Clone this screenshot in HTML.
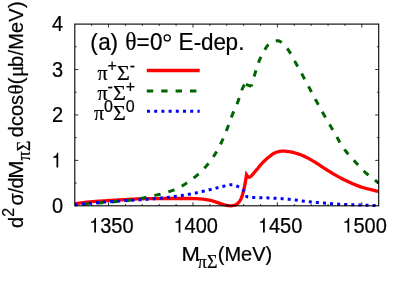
<!DOCTYPE html>
<html><head><meta charset="utf-8"><title>plot</title>
<style>
html,body{margin:0;padding:0;background:#fff;}
body{width:415px;height:291px;overflow:hidden;}
svg{display:block;transform:translateZ(0);will-change:transform;}
text{font-family:"Liberation Sans",sans-serif;font-size:20px;fill:#000;stroke:#000;stroke-width:0.22px;}
.sy{font-family:"Liberation Serif",serif;}
</style></head><body>
<svg width="415" height="291" viewBox="0 0 415 291">
<rect x="0" y="0" width="415" height="291" fill="#fff"/>
<!-- curves -->
<g fill="none" stroke-linejoin="miter">
<path d="M74.80 203.76 L76.24 203.55 L77.69 203.34 L79.13 203.14 L80.57 202.95 L82.01 202.77 L83.46 202.59 L84.90 202.42 L86.34 202.26 L87.79 202.09 L89.23 201.94 L90.67 201.80 L92.11 201.68 L93.56 201.56 L95.00 201.45 L96.44 201.34 L97.89 201.24 L99.33 201.15 L100.77 201.06 L102.21 200.97 L103.66 200.88 L105.10 200.79 L106.54 200.70 L107.99 200.61 L109.43 200.52 L110.87 200.43 L112.32 200.34 L113.76 200.25 L115.20 200.16 L116.64 200.08 L118.09 199.99 L119.53 199.91 L120.97 199.82 L122.42 199.74 L123.86 199.66 L125.30 199.58 L126.74 199.51 L128.19 199.42 L129.63 199.34 L131.07 199.26 L132.52 199.18 L133.96 199.10 L135.40 199.02 L136.84 198.95 L138.29 198.89 L139.73 198.83 L141.17 198.79 L142.62 198.75 L144.06 198.72 L145.50 198.70 L146.94 198.67 L148.39 198.65 L149.83 198.62 L151.27 198.60 L152.72 198.59 L154.16 198.57 L155.60 198.56 L157.04 198.54 L158.49 198.54 L159.93 198.53 L161.37 198.52 L162.82 198.52 L164.26 198.51 L165.70 198.51 L167.14 198.50 L168.59 198.50 L170.03 198.49 L171.47 198.49 L172.92 198.49 L174.36 198.49 L175.80 198.49 L177.24 198.49 L178.69 198.49 L180.13 198.49 L181.57 198.49 L183.02 198.49 L184.46 198.50 L185.90 198.50 L187.35 198.51 L188.79 198.51 L190.23 198.52 L191.67 198.52 L193.12 198.53 L194.56 198.56 L196.00 198.62 L197.45 198.70 L198.89 198.81 L200.33 198.93 L201.77 199.06 L203.22 199.19 L204.66 199.36 L206.10 199.57 L207.55 199.82 L208.99 200.10 L210.43 200.40 L211.87 200.76 L213.32 201.18 L214.76 201.64 L216.20 202.12 L217.65 202.59 L219.09 203.09 L220.53 203.63 L221.97 204.16 L223.42 204.62 L224.86 204.96 L226.30 205.25 L227.75 205.51 L229.19 205.71 L230.63 205.80 L232.07 205.72 L233.52 205.46 L234.96 205.07 L236.40 204.50 L237.85 203.37 L239.29 201.73 L240.73 199.60 L242.17 195.89 L243.62 190.68 L245.06 183.95 L246.50 174.91 L246.50 174.91 L247.84 177.00 L249.17 177.32 L250.51 176.62 L251.84 175.41 L253.18 173.88 L254.52 172.23 L255.85 170.66 L257.19 169.18 L258.52 167.55 L259.86 165.85 L261.19 164.22 L262.53 162.77 L263.86 161.43 L265.20 160.16 L266.53 158.96 L267.87 157.85 L269.20 156.77 L270.54 155.68 L271.87 154.64 L273.21 153.72 L274.55 152.99 L275.88 152.48 L277.22 152.05 L278.55 151.65 L279.89 151.34 L281.22 151.13 L282.56 151.06 L283.89 151.10 L285.23 151.20 L286.56 151.34 L287.90 151.52 L289.23 151.70 L290.57 151.90 L291.90 152.16 L293.24 152.47 L294.57 152.82 L295.91 153.21 L297.25 153.64 L298.58 154.09 L299.92 154.56 L301.25 155.04 L302.59 155.55 L303.92 156.13 L305.26 156.75 L306.59 157.43 L307.93 158.14 L309.26 158.88 L310.60 159.63 L311.93 160.40 L313.27 161.17 L314.60 161.95 L315.94 162.77 L317.28 163.61 L318.61 164.49 L319.95 165.38 L321.28 166.27 L322.62 167.16 L323.95 168.04 L325.29 168.89 L326.62 169.73 L327.96 170.56 L329.29 171.39 L330.63 172.22 L331.96 173.04 L333.30 173.85 L334.63 174.64 L335.97 175.41 L337.31 176.16 L338.64 176.89 L339.98 177.61 L341.31 178.31 L342.65 179.00 L343.98 179.67 L345.32 180.33 L346.65 180.97 L347.99 181.60 L349.32 182.21 L350.66 182.80 L351.99 183.40 L353.33 183.98 L354.66 184.55 L356.00 185.10 L357.33 185.64 L358.67 186.15 L360.01 186.63 L361.34 187.08 L362.68 187.49 L364.01 187.88 L365.35 188.25 L366.68 188.59 L368.02 188.93 L369.35 189.26 L370.69 189.58 L372.02 189.91 L373.36 190.24 L374.69 190.58 L376.03 190.92 L377.36 191.25 L378.70 191.58" stroke="#ff0000" stroke-width="3.3"/>
<path d="M74.80 204.89 L76.23 204.78 L77.66 204.66 L79.09 204.55 L80.52 204.43 L81.95 204.31 L83.38 204.20 L84.81 204.08 L86.24 203.97 L87.67 203.85 L89.10 203.74 L90.53 203.62 L91.96 203.51 L93.39 203.39 L94.82 203.28 L96.25 203.16 L97.68 203.04 L99.11 202.93 L100.54 202.81 L101.97 202.70 L103.40 202.58 L104.83 202.47 L106.26 202.35 L107.69 202.24 L109.12 202.12 L110.55 202.01 L111.98 201.90 L113.41 201.80 L114.84 201.70 L116.27 201.59 L117.70 201.49 L119.13 201.37 L120.56 201.26 L121.99 201.14 L123.42 201.01 L124.85 200.87 L126.28 200.71 L127.71 200.53 L129.14 200.32 L130.57 200.11 L132.00 199.90 L133.43 199.67 L134.86 199.43 L136.30 199.19 L137.73 198.94 L139.16 198.68 L140.59 198.41 L142.02 198.14 L143.45 197.85 L144.88 197.55 L146.31 197.23 L147.74 196.90 L149.17 196.58 L150.60 196.26 L152.03 195.96 L153.46 195.68 L154.89 195.39 L156.32 195.10 L157.75 194.79 L159.18 194.45 L160.61 194.09 L162.04 193.72 L163.47 193.34 L164.90 192.94 L166.33 192.52 L167.76 192.08 L169.19 191.62 L170.62 191.14 L172.05 190.63 L173.48 190.09 L174.91 189.52 L176.34 188.91 L177.77 188.24 L179.20 187.52 L180.63 186.75 L182.06 185.93 L183.49 185.07 L184.92 184.18 L186.35 183.24 L187.78 182.28 L189.21 181.28 L190.64 180.26 L192.07 179.22 L193.50 178.16 L194.93 177.05 L196.36 175.87 L197.79 174.65 L199.22 173.36 L200.65 172.01 L202.08 170.60 L203.51 169.13 L204.94 167.59 L206.37 165.99 L207.80 164.29 L209.23 162.50 L210.66 160.62 L212.09 158.63 L213.52 156.54 L214.95 154.34 L216.38 152.03 L217.81 149.55 L219.24 146.85 L220.67 143.97 L222.10 140.94 L223.53 137.78 L224.96 134.50 L226.39 130.91 L227.82 127.08 L229.25 123.13 L230.68 119.18 L232.11 115.37 L233.54 111.82 L234.97 108.55 L236.40 105.33 L237.83 101.91 L239.26 97.87 L240.69 93.34 L242.12 89.22 L243.55 86.24 L244.98 84.06" stroke="#006400" stroke-width="3" stroke-dasharray="6.4 8.1" stroke-dashoffset="6.8"/>
<path d="M246.00 84.42 L251.23 86.33" stroke="#006400" stroke-width="3"/>
<path d="M251.23 86.33 L252.52 81.81 L253.81 77.43 L255.09 73.22 L256.38 69.06 L257.67 65.02 L258.96 61.42 L260.24 58.41 L261.53 55.79 L262.82 53.40 L264.11 50.98 L265.39 48.66 L266.68 46.64 L267.97 45.08 L269.26 44.11 L270.54 43.27 L271.83 42.51 L273.12 41.85 L274.41 41.32 L275.69 40.93 L276.98 40.72 L278.27 40.72 L279.56 41.14 L280.84 41.94 L282.13 43.03 L283.42 44.31 L284.71 45.68 L286.00 47.07 L287.28 48.55 L288.57 50.33 L289.86 52.36 L291.15 54.56 L292.43 56.88 L293.72 59.25 L295.01 61.61 L296.30 63.89 L297.58 66.16 L298.87 68.48 L300.16 70.85 L301.45 73.24 L302.73 75.65 L304.02 78.06 L305.31 80.46 L306.60 82.85 L307.88 85.23 L309.17 87.63 L310.46 90.04 L311.75 92.46 L313.03 94.87 L314.32 97.28 L315.61 99.68 L316.90 102.08 L318.18 104.45 L319.47 106.81 L320.76 109.14 L322.05 111.44 L323.33 113.72 L324.62 115.97 L325.91 118.19 L327.20 120.40 L328.48 122.60 L329.77 124.80 L331.06 126.99 L332.35 129.18 L333.64 131.39 L334.92 133.61 L336.21 135.84 L337.50 138.10 L338.79 140.48 L340.07 142.89 L341.36 145.09 L342.65 146.97 L343.94 148.76 L345.22 150.45 L346.51 152.06 L347.80 153.61 L349.09 155.10 L350.37 156.56 L351.66 157.98 L352.95 159.38 L354.24 160.79 L355.52 162.19 L356.81 163.62 L358.10 165.06 L359.39 166.50 L360.67 167.90 L361.96 169.26 L363.25 170.55 L364.54 171.76 L365.82 172.90 L367.11 173.99 L368.40 175.04 L369.69 176.06 L370.97 177.06 L372.26 178.04 L373.55 179.02 L374.84 180.01 L376.12 181.02 L377.41 182.05 L378.70 183.09" stroke="#006400" stroke-width="3" stroke-dasharray="6.4 8.1" stroke-dashoffset="4.3"/>
<path d="M74.80 204.89 L76.25 204.72 L77.69 204.55 L79.14 204.38 L80.58 204.22 L82.03 204.05 L83.47 203.90 L84.92 203.74 L86.37 203.59 L87.81 203.45 L89.26 203.30 L90.70 203.17 L92.15 203.03 L93.59 202.90 L95.04 202.77 L96.49 202.65 L97.93 202.53 L99.38 202.41 L100.82 202.30 L102.27 202.18 L103.71 202.07 L105.16 201.96 L106.61 201.86 L108.05 201.75 L109.50 201.64 L110.94 201.54 L112.39 201.44 L113.83 201.33 L115.28 201.23 L116.73 201.13 L118.17 201.04 L119.62 200.94 L121.06 200.85 L122.51 200.76 L123.95 200.67 L125.40 200.58 L126.85 200.50 L128.29 200.42 L129.74 200.34 L131.18 200.27 L132.63 200.19 L134.07 200.12 L135.52 200.05 L136.97 199.98 L138.41 199.90 L139.86 199.82 L141.30 199.73 L142.75 199.64 L144.19 199.54 L145.64 199.44 L147.09 199.34 L148.53 199.23 L149.98 199.12 L151.42 199.00 L152.87 198.88 L154.31 198.76 L155.76 198.63 L157.21 198.50 L158.65 198.36 L160.10 198.22 L161.54 198.07 L162.99 197.91 L164.43 197.75 L165.88 197.58 L167.33 197.41 L168.77 197.23 L170.22 197.05 L171.66 196.86 L173.11 196.67 L174.55 196.47 L176.00 196.27 L177.45 196.07 L178.89 195.87 L180.34 195.65 L181.78 195.44 L183.23 195.21 L184.68 194.98 L186.12 194.75 L187.57 194.51 L189.01 194.26 L190.46 194.00 L191.90 193.74 L193.35 193.47 L194.80 193.18 L196.24 192.88 L197.69 192.56 L199.13 192.24 L200.58 191.90 L202.02 191.56 L203.47 191.21 L204.92 190.86 L206.36 190.51 L207.81 190.15 L209.25 189.80 L210.70 189.45 L212.14 189.09 L213.59 188.72 L215.04 188.34 L216.48 187.96 L217.93 187.58 L219.37 187.21 L220.82 186.85 L222.26 186.51 L223.71 186.19 L225.16 185.85 L226.60 185.49 L228.05 185.15 L229.49 184.87 L230.94 184.71 L232.38 184.70 L233.83 184.96 L235.28 185.42 L236.72 186.00 L238.17 186.61 L239.61 187.38 L241.06 188.33 L242.50 189.43 L243.95 190.82 L245.40 193.15 L246.84 196.72 L246.84 196.72 L248.17 197.03 L249.50 197.30 L250.84 197.42 L252.17 197.49 L253.50 197.54 L254.83 197.59 L256.16 197.63 L257.50 197.66 L258.83 197.68 L260.16 197.71 L261.49 197.73 L262.82 197.75 L264.16 197.78 L265.49 197.81 L266.82 197.85 L268.15 197.90 L269.48 197.95 L270.82 198.01 L272.15 198.08 L273.48 198.15 L274.81 198.22 L276.14 198.30 L277.48 198.38 L278.81 198.47 L280.14 198.55 L281.47 198.64 L282.80 198.74 L284.13 198.84 L285.47 198.94 L286.80 199.05 L288.13 199.17 L289.46 199.30 L290.79 199.43 L292.13 199.57 L293.46 199.74 L294.79 199.92 L296.12 200.10 L297.45 200.30 L298.79 200.49 L300.12 200.69 L301.45 200.88 L302.78 201.06 L304.11 201.22 L305.45 201.38 L306.78 201.52 L308.11 201.67 L309.44 201.81 L310.77 201.95 L312.10 202.08 L313.44 202.21 L314.77 202.34 L316.10 202.46 L317.43 202.58 L318.76 202.69 L320.10 202.80 L321.43 202.91 L322.76 203.02 L324.09 203.12 L325.42 203.22 L326.76 203.32 L328.09 203.41 L329.42 203.50 L330.75 203.60 L332.08 203.69 L333.42 203.78 L334.75 203.87 L336.08 203.95 L337.41 204.04 L338.74 204.13 L340.07 204.21 L341.41 204.30 L342.74 204.37 L344.07 204.45 L345.40 204.52 L346.73 204.58 L348.07 204.64 L349.40 204.69 L350.73 204.74 L352.06 204.79 L353.39 204.84 L354.73 204.88 L356.06 204.93 L357.39 204.97 L358.72 205.02 L360.05 205.06 L361.39 205.10 L362.72 205.15 L364.05 205.19 L365.38 205.24 L366.71 205.28 L368.04 205.33 L369.38 205.37 L370.71 205.41 L372.04 205.46 L373.37 205.50 L374.70 205.54 L376.04 205.58 L377.37 205.62 L378.70 205.66" stroke="#0000ff" stroke-width="3" stroke-dasharray="3 4.1"/>
</g>
<!-- frame + ticks -->
<rect x="74.8" y="24.1" width="303.9" height="181.70000000000002" fill="none" stroke="#000" stroke-width="1.1"/>
<path d="M91.68 205.80 v-1.80 M91.68 24.10 v1.80 M108.57 205.80 v-3.50 M108.57 24.10 v3.50 M125.45 205.80 v-1.80 M125.45 24.10 v1.80 M142.33 205.80 v-1.80 M142.33 24.10 v1.80 M159.22 205.80 v-1.80 M159.22 24.10 v1.80 M176.10 205.80 v-1.80 M176.10 24.10 v1.80 M192.98 205.80 v-3.50 M192.98 24.10 v3.50 M209.87 205.80 v-1.80 M209.87 24.10 v1.80 M226.75 205.80 v-1.80 M226.75 24.10 v1.80 M243.63 205.80 v-1.80 M243.63 24.10 v1.80 M260.52 205.80 v-1.80 M260.52 24.10 v1.80 M277.40 205.80 v-3.50 M277.40 24.10 v3.50 M294.28 205.80 v-1.80 M294.28 24.10 v1.80 M311.17 205.80 v-1.80 M311.17 24.10 v1.80 M328.05 205.80 v-1.80 M328.05 24.10 v1.80 M344.93 205.80 v-1.80 M344.93 24.10 v1.80 M361.82 205.80 v-3.50 M361.82 24.10 v3.50 M74.80 183.09 h1.80 M378.70 183.09 h-1.80 M74.80 160.38 h3.50 M378.70 160.38 h-3.50 M74.80 137.66 h1.80 M378.70 137.66 h-1.80 M74.80 114.95 h3.50 M378.70 114.95 h-3.50 M74.80 92.24 h1.80 M378.70 92.24 h-1.80 M74.80 69.53 h3.50 M378.70 69.53 h-3.50 M74.80 46.81 h1.80 M378.70 46.81 h-1.80" stroke="#000" stroke-width="0.8" fill="none"/>
<!-- tick labels -->
<g transform="translate(89.02 232.6) scale(1 1.07)"><path d="M5.2 0V-9.25H2.05V-10.45C4.75 -10.8 5.2 -11.3 5.8 -13.76H6.95V0Z" fill="#000"/><text x="11.12" y="0">350</text></g><g transform="translate(173.43 232.6) scale(1 1.07)"><path d="M5.2 0V-9.25H2.05V-10.45C4.75 -10.8 5.2 -11.3 5.8 -13.76H6.95V0Z" fill="#000"/><text x="11.12" y="0">400</text></g><g transform="translate(257.85 232.6) scale(1 1.07)"><path d="M5.2 0V-9.25H2.05V-10.45C4.75 -10.8 5.2 -11.3 5.8 -13.76H6.95V0Z" fill="#000"/><text x="11.12" y="0">450</text></g><g transform="translate(342.27 232.6) scale(1 1.07)"><path d="M5.2 0V-9.25H2.05V-10.45C4.75 -10.8 5.2 -11.3 5.8 -13.76H6.95V0Z" fill="#000"/><text x="11.12" y="0">500</text></g>
<text transform="translate(63 213.00) scale(1 1.07)" text-anchor="end">0</text><g transform="translate(51.28 167.57) scale(1 1.07)"><path d="M5.2 0V-9.25H2.05V-10.45C4.75 -10.8 5.2 -11.3 5.8 -13.76H6.95V0Z" fill="#000"/></g><text transform="translate(63 122.15) scale(1 1.07)" text-anchor="end">2</text><text transform="translate(63 76.73) scale(1 1.07)" text-anchor="end">3</text><text transform="translate(63 31.30) scale(1 1.07)" text-anchor="end">4</text>
<!-- title -->
<g transform="translate(0 50.1) scale(1 1.04)"><text y="0" style="font-size:22.5px"><tspan x="90.2">(</tspan><tspan x="98.2">a</tspan><tspan x="110.6">)</tspan><tspan x="125.3" class="sy" style="font-size:23.5px">θ</tspan><tspan x="136.5">=</tspan><tspan x="150.0">0</tspan><tspan x="178.5">E</tspan><tspan x="193.8">-</tspan><tspan x="201.1">d</tspan><tspan x="213.5">e</tspan><tspan x="225.4">p</tspan><tspan x="238.3">.</tspan></text></g>
<circle cx="167.2" cy="37.9" r="3.05" fill="none" stroke="#000" stroke-width="1.3"/>
<!-- legend -->
<g fill="none">
<path d="M146.8 70.5H199.7" stroke="#ff0000" stroke-width="3.3"/>
<path d="M146.8 90.9H199.7" stroke="#006400" stroke-width="3" stroke-dasharray="6.4 8"/>
<path d="M147.0 111.2H199.7" stroke="#0000ff" stroke-width="3" stroke-dasharray="3 4.2"/>
</g>
<text x="97.5" y="79.6"><tspan class="sy">π</tspan><tspan font-size="16" dy="-8.3">+</tspan><tspan class="sy" font-size="22" dy="8.3">Σ</tspan><tspan font-size="16" dy="-8.3">-</tspan></text>
<text x="97.5" y="99.9"><tspan class="sy">π</tspan><tspan font-size="16" dy="-8.3">-</tspan><tspan class="sy" font-size="22" dy="8.3">Σ</tspan><tspan font-size="16" dy="-8.3">+</tspan></text>
<text x="94" y="120.2"><tspan class="sy">π</tspan><tspan font-size="16" dy="-8.3">0</tspan><tspan class="sy" font-size="22" dy="8.3">Σ</tspan><tspan font-size="16" dy="-8.3">0</tspan></text>
<!-- x label -->
<text transform="translate(181.6 260.7) scale(1.1 1.03)">M</text>
<text x="197.8" y="267.9" class="sy" style="font-size:18px">πΣ</text>
<text transform="translate(217.8 260.7) scale(1 1.03)">(MeV)</text>
<!-- y label -->
<g transform="translate(23.3 228.1) rotate(-90)">
<text x="0" y="0">d</text>
<text x="11.4" y="-9.4" style="font-size:16px">2</text>
<text x="22.5" y="0">σ</text>
<text x="34.55" y="0">/</text>
<text x="39.6" y="0">d</text>
<text transform="translate(49.3 0) scale(1.1 1)">M</text>
<text x="67.7" y="7.0" class="sy" style="font-size:18px">πΣ</text>
<text x="90.96" y="0">dcos</text>
<text x="133.6" y="0" class="sy" style="font-size:21px">θ</text>
<text x="143.75" y="0">(</text>
<text x="151.0" y="0" class="sy" style="font-size:21px">μ</text>
<text x="161.2" y="0" letter-spacing="0.2">b/MeV)</text>
</g>
</svg>
</body></html>
